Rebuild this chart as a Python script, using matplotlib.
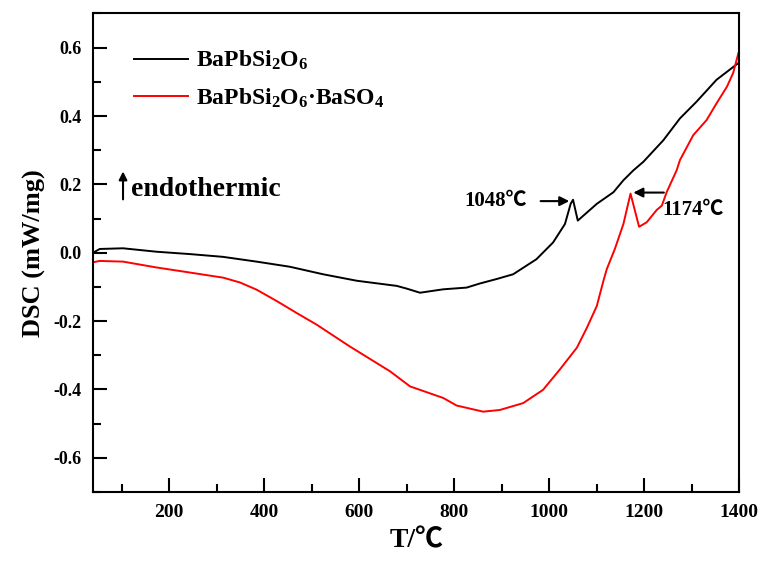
import matplotlib
matplotlib.use('Agg')
import matplotlib.pyplot as plt
from matplotlib.ticker import MultipleLocator

plt.rcParams['font.family'] = ['Liberation Serif', 'Noto Sans CJK SC']
plt.rcParams['font.weight'] = 'bold'
plt.rcParams['axes.labelweight'] = 'bold'
plt.rcParams['axes.unicode_minus'] = False
plt.rcParams['mathtext.fontset'] = 'custom'
plt.rcParams['mathtext.rm'] = 'Liberation Serif:bold'
plt.rcParams['mathtext.it'] = 'Liberation Serif:bold'
plt.rcParams['mathtext.default'] = 'rm'

# DSC data
temp_pure = [40, 54, 103, 173, 244, 313, 384, 454, 524, 595, 651, 679, 700, 728, 777, 826,
             854, 889, 924, 973, 1008, 1033, 1045, 1050, 1060, 1100, 1135, 1156, 1177,
             1198, 1240, 1275, 1310, 1352, 1398]
dsc_pure = [0.000, 0.011, 0.013, 0.003, -0.004, -0.012, -0.026, -0.041, -0.063, -0.082,
            -0.092, -0.097, -0.105, -0.117, -0.107, -0.102, -0.090, -0.077, -0.063, -0.019,
            0.030, 0.084, 0.143, 0.155, 0.094, 0.143, 0.177, 0.212, 0.241, 0.266, 0.329,
            0.393, 0.442, 0.506, 0.555]

temp_mix = [40, 54, 103, 173, 244, 314, 349, 384, 426, 468, 510, 580, 665, 707, 777, 805,
            861, 896, 945, 987, 1022, 1058, 1079, 1100, 1114, 1121, 1138, 1156, 1171, 1189,
            1205, 1226, 1237, 1247, 1268, 1275, 1303, 1331, 1352, 1374, 1387, 1398]
dsc_mix = [-0.028, -0.024, -0.026, -0.043, -0.058, -0.073, -0.087, -0.108, -0.141, -0.176,
           -0.210, -0.274, -0.347, -0.391, -0.425, -0.447, -0.465, -0.460, -0.440, -0.401,
           -0.342, -0.278, -0.220, -0.156, -0.082, -0.048, 0.011, 0.084, 0.173, 0.076,
           0.089, 0.125, 0.138, 0.177, 0.241, 0.271, 0.344, 0.388, 0.437, 0.486, 0.526, 0.584]

labels = ['BaPbSi$_2$O$_6$', 'BaPbSi$_2$O$_6$·BaSO$_4$']
peaks = [(1048, 0.151, '1048℃'), (1171, 0.176, '1174℃')]

fig = plt.figure(figsize=(7.63, 5.61), dpi=100)
ax = fig.add_axes([0.122, 0.123, 0.847, 0.853])

ax.plot(temp_pure, dsc_pure, color='black', lw=1.4, label=labels[0])
ax.plot(temp_mix, dsc_mix, color='red', lw=1.4, label=labels[1])

ax.set_xlim(40, 1400)
ax.set_ylim(-0.7, 0.7)
ax.xaxis.set_major_locator(MultipleLocator(200))
ax.xaxis.set_minor_locator(MultipleLocator(100))
ax.yaxis.set_major_locator(MultipleLocator(0.2))
ax.yaxis.set_minor_locator(MultipleLocator(0.1))
ax.set_xticks([200, 400, 600, 800, 1000, 1200, 1400])
ax.set_yticks([-0.6, -0.4, -0.2, 0.0, 0.2, 0.4, 0.6])
ax.tick_params(which='both', direction='in', top=False, right=False, width=1.5)
ax.tick_params(axis='x', which='major', length=10, labelsize=14, pad=9)
ax.tick_params(axis='y', which='major', length=10, labelsize=13, pad=8)
ax.tick_params(which='minor', length=6)
for s in ax.spines.values():
    s.set_linewidth(1.5)

ax.set_xlabel('T/℃', fontsize=20, labelpad=5)
ax.set_ylabel('DSC (mW/mg)', fontsize=19, labelpad=6)

ax.legend(loc='upper left', bbox_to_anchor=(0.03, 0.97), frameon=False, fontsize=17,
          handlelength=2.3, handletextpad=0.35, labelspacing=0.6)

# endothermic direction
ax.annotate('', xy=(103, 0.246), xytext=(103, 0.148),
            arrowprops=dict(arrowstyle='-|>', color='black', lw=1.5, mutation_scale=12))
ax.text(119, 0.165, 'endothermic', fontsize=20, va='baseline', ha='left')

# peak labels
ax.annotate('', xy=(peaks[0][0], peaks[0][1]), xytext=(976, peaks[0][1]),
            arrowprops=dict(arrowstyle='-|>', color='black', lw=1.5, mutation_scale=14))
ax.text(953, peaks[0][1], peaks[0][2], fontsize=15, va='center', ha='right')
ax.annotate('', xy=(peaks[1][0], peaks[1][1]), xytext=(1247, peaks[1][1]),
            arrowprops=dict(arrowstyle='-|>', color='black', lw=1.5, mutation_scale=14))
ax.text(1239, 0.124, peaks[1][2], fontsize=15, va='center', ha='left')

fig.savefig('out.png', dpi=100)
